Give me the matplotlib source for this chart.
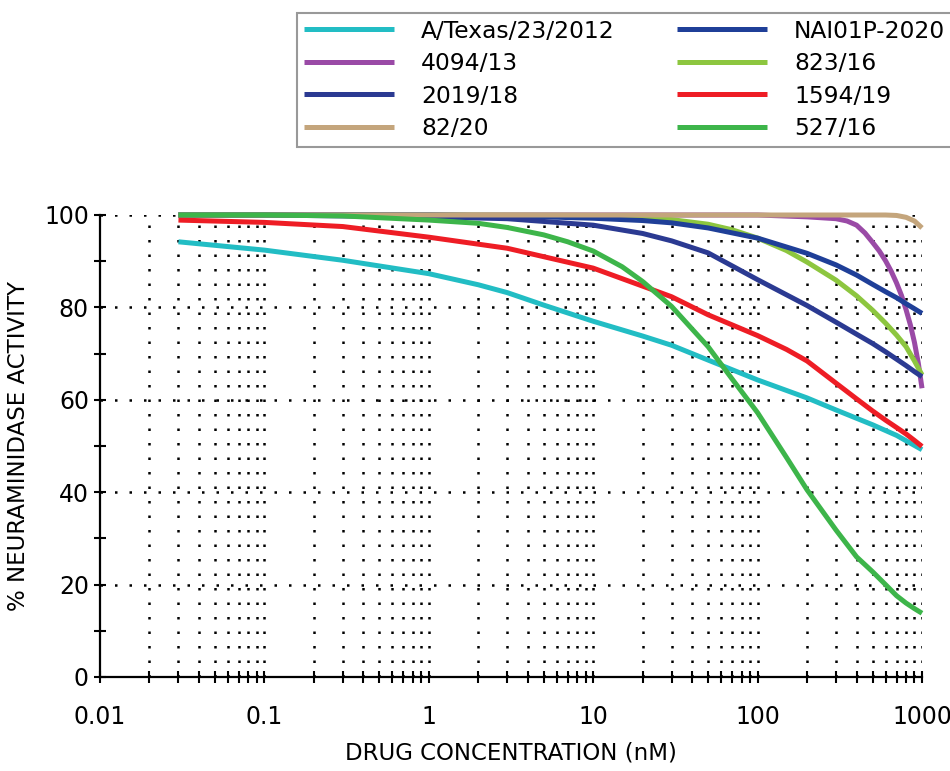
import numpy as np
import matplotlib
matplotlib.use("Agg")
import matplotlib.pyplot as plt
from matplotlib.ticker import FixedLocator, FixedFormatter, LogLocator, NullFormatter

### data ###
texas_x = [0.03, 0.1, 0.3, 1, 2, 3, 5, 10, 20, 30, 50, 100, 200, 300, 500, 700, 1000]
texas_y = [94.2, 92.4, 90.2, 87.3, 84.9, 83.2, 80.5, 77.0, 73.8, 71.8, 68.6, 64.3, 60.4, 57.8, 54.6, 52.3, 49.2]

s4094_x = [0.03, 1, 100, 200, 300, 350, 400, 450, 500, 550, 600, 650, 700, 750, 800, 850, 900, 950, 1000]
s4094_y = [100, 100, 100, 99.6, 99.2, 98.7, 97.8, 96.1, 94.1, 92.2, 90.1, 87.8, 85.3, 82.6, 79.5, 76.2, 72.4, 67.9, 62.5]

s2019_x = [0.03, 0.1, 0.3, 1, 3, 10, 20, 30, 50, 100, 200, 300, 400, 500, 600, 700, 800, 900, 1000]
s2019_y = [100, 100, 99.8, 99.6, 99.2, 97.8, 96.0, 94.4, 91.8, 86.0, 80.4, 76.8, 74.2, 72.2, 70.4, 68.8, 67.4, 66.1, 65.0]

s8220_x = [0.03, 1, 100, 600, 700, 800, 900, 1000]
s8220_y = [100, 100, 100, 100, 99.9, 99.5, 98.7, 97.2]

nai01p_x = [0.03, 1, 3, 10, 20, 30, 50, 100, 200, 300, 400, 500, 600, 700, 800, 900, 1000]
nai01p_y = [100, 100, 99.8, 99.3, 98.8, 98.3, 97.2, 95.0, 91.7, 89.2, 87.0, 85.0, 83.4, 82.1, 80.8, 79.7, 78.7]

s82316_x = [0.03, 1, 10, 20, 30, 50, 70, 100, 150, 200, 300, 400, 500, 600, 700, 800, 900, 1000]
s82316_y = [100, 100, 99.9, 99.4, 99.0, 98.0, 96.8, 95.0, 92.3, 89.8, 85.9, 82.5, 79.4, 76.6, 74.0, 71.5, 68.4, 65.4]

s1594_x = [0.03, 0.1, 0.3, 1, 3, 10, 20, 30, 50, 100, 150, 200, 300, 400, 500, 600, 700, 800, 900, 1000]
s1594_y = [98.9, 98.4, 97.5, 95.2, 92.8, 88.5, 84.6, 82.3, 78.4, 73.9, 70.9, 68.4, 63.6, 60.2, 57.6, 55.6, 54.0, 52.6, 51.2, 49.9]

s52716_x = [0.03, 0.1, 0.3, 1, 2, 3, 5, 7, 10, 15, 20, 30, 50, 70, 100, 150, 200, 300, 400, 500, 600, 700, 800, 900, 1000]
s52716_y = [100, 100, 99.8, 98.9, 98.2, 97.3, 95.7, 94.2, 92.2, 88.8, 85.6, 80.2, 71.5, 64.5, 57.2, 47.5, 40.5, 31.8, 26.0, 22.8, 20.0, 17.6, 16.0, 14.8, 13.8]

labels = ["A/Texas/23/2012", "4094/13", "2019/18", "82/20",
          "NAI01P-2020", "823/16", "1594/19", "527/16"]
xs = [texas_x, s4094_x, s2019_x, s8220_x, nai01p_x, s82316_x, s1594_x, s52716_x]
ys = [texas_y, s4094_y, s2019_y, s8220_y, nai01p_y, s82316_y, s1594_y, s52716_y]
colors = ["#22BDC4", "#9A4AA6", "#2B3A92", "#C4A57C",
          "#1F3F98", "#8DC63F", "#EE1D25", "#3DB54A"]
zorders = [5, 1, 4, 6, 3, 2, 7, 8]

xticks = [0.01, 0.1, 1, 10, 100, 1000]
xticklabels = ["0.01", "0.1", "1", "10", "100", "1000"]
yticks = [0, 20, 40, 60, 80, 100]
#####################################

plt.rcParams["font.family"] = "DejaVu Sans"

fig = plt.figure(figsize=(9.5, 7.71), dpi=100)
ax = fig.add_axes([100 / 950, 1 - 677 / 771, 822 / 950, 462 / 771])

handles = []
for x, y, lab, c, z in zip(xs, ys, labels, colors, zorders):
    h, = ax.plot(x, y, color=c, lw=3.6, label=lab, zorder=z,
                 solid_joinstyle="round", solid_capstyle="butt", clip_on=False)
    handles.append(h)

ax.set_xscale("log")
ax.set_xlim(0.01, 1000)
ax.set_ylim(0, 100)

ax.xaxis.set_major_locator(FixedLocator(xticks))
ax.xaxis.set_major_formatter(FixedFormatter(xticklabels))
ax.xaxis.set_minor_locator(LogLocator(base=10, subs=np.arange(2, 10), numticks=20))
ax.xaxis.set_minor_formatter(NullFormatter())
ax.yaxis.set_major_locator(FixedLocator(yticks))
ax.yaxis.set_minor_locator(FixedLocator([10, 30, 50, 70, 90]))

dots = (0, (1, 4.8))
ax.grid(axis="x", which="both", color="black", lw=1.8, linestyle=dots)
ax.grid(axis="y", which="major", color="black", lw=1.8, linestyle=dots)
ax.set_axisbelow(True)
# no dotted grid on top of the axis lines themselves
ax.xaxis.get_major_ticks()[0].gridline.set_visible(False)
ax.yaxis.get_major_ticks()[0].gridline.set_visible(False)

for s in ["top", "right"]:
    ax.spines[s].set_visible(False)
for s in ["left", "bottom"]:
    ax.spines[s].set_linewidth(1.6)
    ax.spines[s].set_zorder(2.5)

ax.tick_params(which="both", direction="inout", length=8, width=1.5, colors="black")
ax.tick_params(axis="x", which="major", pad=16, labelsize=17)
ax.tick_params(axis="y", which="major", pad=4, labelsize=17)

ax.set_xlabel("DRUG CONCENTRATION (nM)", fontsize=16.5, labelpad=9)
ax.set_ylabel("% NEURAMINIDASE ACTIVITY", fontsize=16.5, labelpad=10)

leg = fig.legend(handles=handles, loc="upper left", ncol=2,
                 bbox_to_anchor=(297 / 950, 1 - 12.5 / 771), borderaxespad=0,
                 fontsize=16.8, handlelength=3.86, handletextpad=1.16,
                 columnspacing=2.66, labelspacing=0.41, borderpad=0.3,
                 fancybox=False, framealpha=1)
leg.get_frame().set_edgecolor("#999999")
leg.get_frame().set_linewidth(1.5)

fig.savefig("out.png", dpi=100)
